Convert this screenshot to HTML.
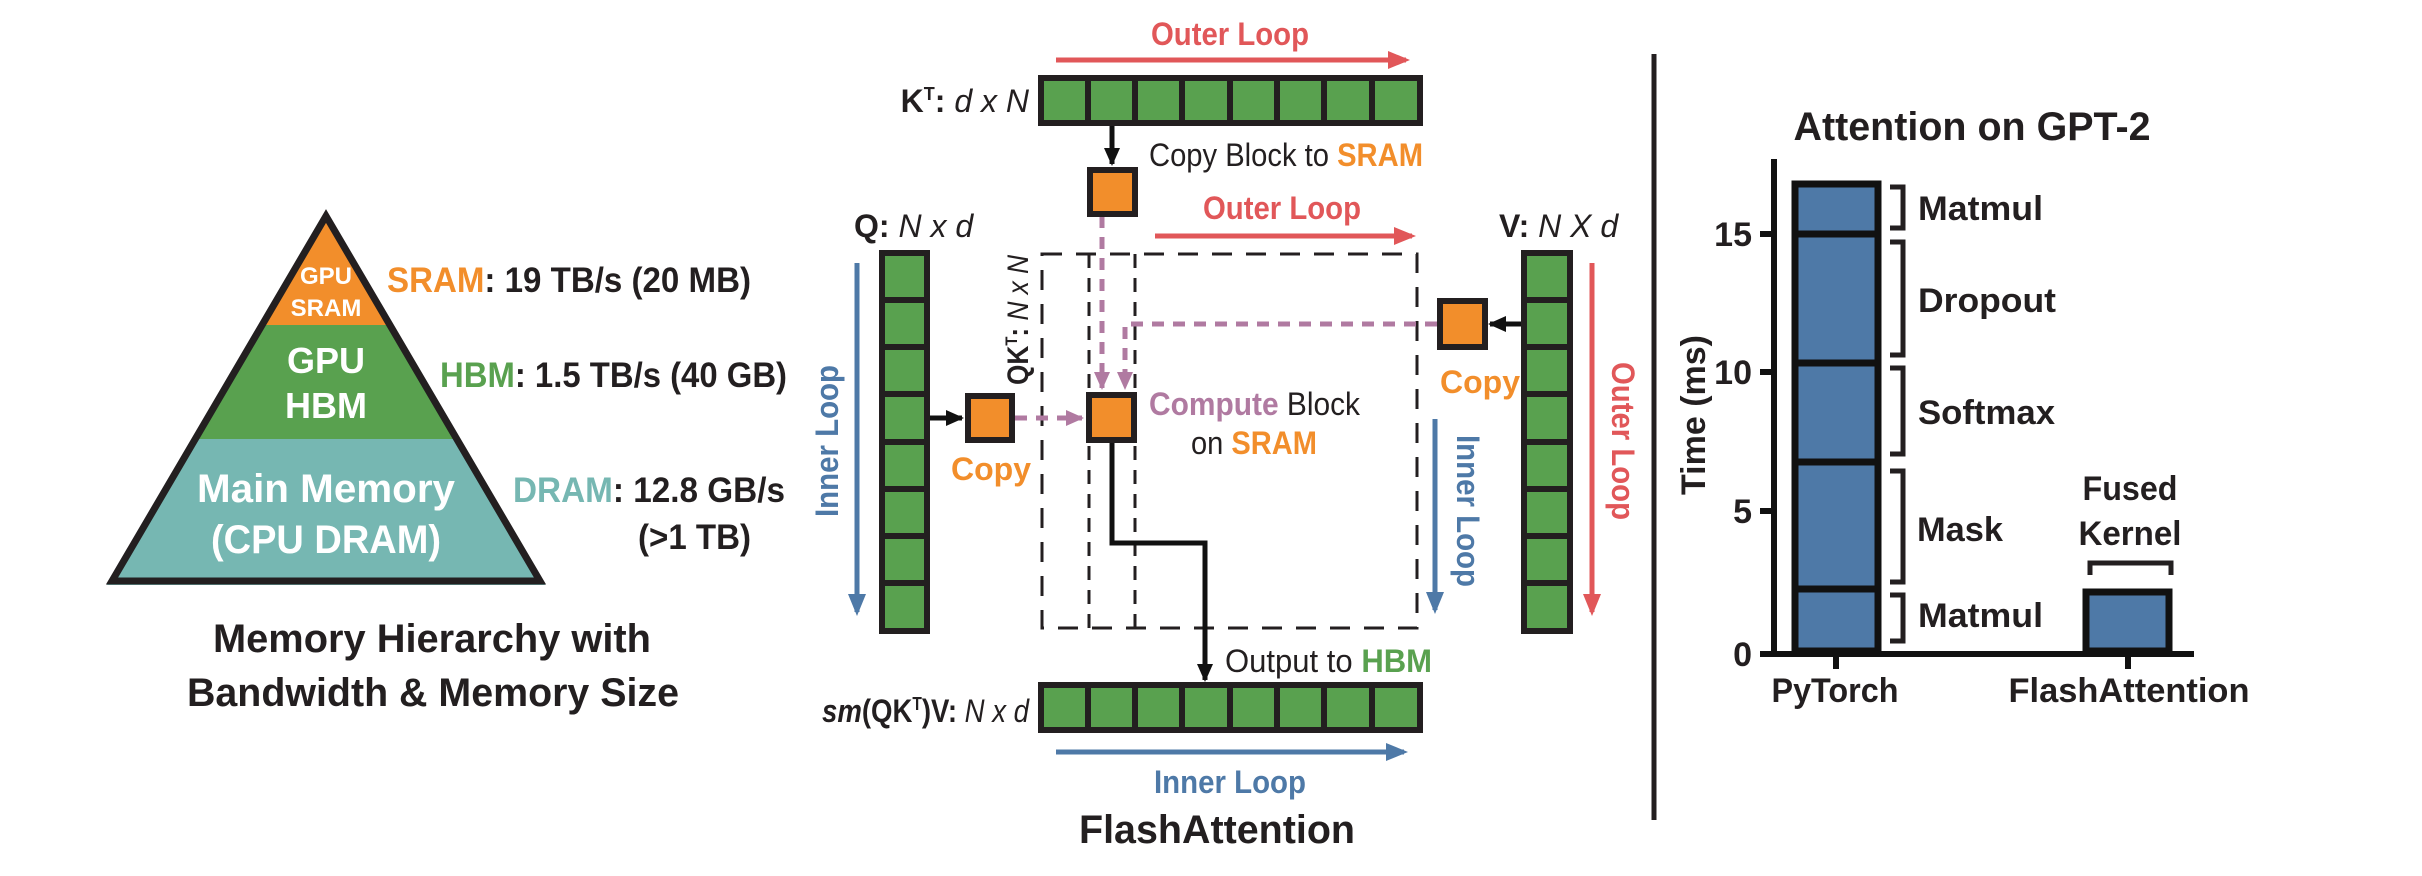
<!DOCTYPE html>
<html><head><meta charset="utf-8"><style>
html,body{margin:0;padding:0;background:#fff;}
svg{display:block;font-family:"Liberation Sans",sans-serif;}
</style></head><body>
<svg width="2422" height="876" viewBox="0 0 2422 876" xmlns="http://www.w3.org/2000/svg">
<defs>
<marker id="ab" markerWidth="20" markerHeight="18" refX="16" refY="9" orient="auto" markerUnits="userSpaceOnUse"><path d="M0,1 L18,9 L0,17 z" fill="#111"/></marker>
<marker id="ar" markerWidth="24" markerHeight="20" refX="18" refY="10" orient="auto" markerUnits="userSpaceOnUse"><path d="M0,1 L22,10 L0,19 z" fill="#e15759"/></marker>
<marker id="au" markerWidth="24" markerHeight="20" refX="18" refY="10" orient="auto" markerUnits="userSpaceOnUse"><path d="M0,1 L22,10 L0,19 z" fill="#4e79a7"/></marker>
<marker id="ap" markerWidth="20" markerHeight="18" refX="16" refY="9" orient="auto" markerUnits="userSpaceOnUse"><path d="M0,1 L18,9 L0,17 z" fill="#b07aa1"/></marker>
<clipPath id="tri"><polygon points="326,210 107,585 545,585"/></clipPath>
</defs>

<!-- Pyramid -->
<g clip-path="url(#tri)">
<rect x="100" y="200" width="460" height="125" fill="#f28e2b"/>
<rect x="100" y="325" width="460" height="114" fill="#59a14f"/>
<rect x="100" y="439" width="460" height="150" fill="#76b7b2"/>
</g>
<polygon points="326,216 112,581 540,581" fill="none" stroke="#231f20" stroke-width="7" stroke-linejoin="miter"/>
<g font-weight="bold" fill="#fff" text-anchor="middle">
<text x="326" y="284" font-size="24">GPU</text>
<text x="326" y="316" font-size="24">SRAM</text>
<text x="326" y="373" font-size="36">GPU</text>
<text x="326" y="418" font-size="36">HBM</text>
<text x="326" y="502" font-size="40" textLength="258" lengthAdjust="spacingAndGlyphs">Main Memory</text>
<text x="326" y="553" font-size="40" textLength="230" lengthAdjust="spacingAndGlyphs">(CPU DRAM)</text>
</g>
<g font-weight="bold" fill="#231f20" font-size="35">
<text x="387" y="292" textLength="364" lengthAdjust="spacingAndGlyphs"><tspan fill="#f28e2b">SRAM</tspan>: 19 TB/s (20 MB)</text>
<text x="440" y="387" textLength="347" lengthAdjust="spacingAndGlyphs"><tspan fill="#59a14f">HBM</tspan>: 1.5 TB/s (40 GB)</text>
<text x="513" y="502" textLength="272" lengthAdjust="spacingAndGlyphs"><tspan fill="#76b7b2">DRAM</tspan>: 12.8 GB/s</text>
<text x="638" y="549" textLength="113" lengthAdjust="spacingAndGlyphs">(&gt;1 TB)</text>
</g>
<g font-weight="bold" fill="#231f20" font-size="40" text-anchor="middle">
<text x="432" y="652" textLength="438" lengthAdjust="spacingAndGlyphs">Memory Hierarchy with</text>
<text x="433" y="706" textLength="492" lengthAdjust="spacingAndGlyphs">Bandwidth &amp; Memory Size</text>
</g>

<!-- FlashAttention -->
<g font-weight="bold" font-size="32" text-anchor="middle">
<text x="1230" y="45" fill="#e15759" textLength="158" lengthAdjust="spacingAndGlyphs">Outer Loop</text>
<text x="1282" y="219" fill="#e15759" textLength="158" lengthAdjust="spacingAndGlyphs">Outer Loop</text>
<text x="1230" y="793" fill="#4e79a7" textLength="152" lengthAdjust="spacingAndGlyphs">Inner Loop</text>
</g>
<line x1="1056" y1="60" x2="1406" y2="60" stroke="#e15759" stroke-width="5" marker-end="url(#ar)"/>
<line x1="1155" y1="236" x2="1412" y2="236" stroke="#e15759" stroke-width="5" marker-end="url(#ar)"/>
<line x1="1056" y1="752" x2="1404" y2="752" stroke="#4e79a7" stroke-width="5" marker-end="url(#au)"/>

<!-- bars -->
<g stroke="#231f20" stroke-width="6" fill="#59a14f">
<rect x="1041" y="78" width="379" height="45"/>
<path d="M1088,78v45M1135,78v45M1182,78v45M1230,78v45M1277,78v45M1324,78v45M1372,78v45" fill="none"/>
<rect x="1041" y="685" width="379" height="45"/>
<path d="M1088,685v45M1135,685v45M1182,685v45M1230,685v45M1277,685v45M1324,685v45M1372,685v45" fill="none"/>
<rect x="882" y="253" width="45" height="378"/>
<path d="M882,300h45M882,347h45M882,394h45M882,442h45M882,489h45M882,536h45M882,583h45" fill="none"/>
<rect x="1524" y="253" width="46" height="378"/>
<path d="M1524,300h46M1524,347h46M1524,394h46M1524,442h46M1524,489h46M1524,536h46M1524,583h46" fill="none"/>
</g>
<g font-size="32" fill="#231f20">
<text x="1029" y="112" text-anchor="end"><tspan font-weight="bold">K</tspan><tspan font-weight="bold" font-size="18" dy="-12">T</tspan><tspan font-weight="bold" dy="12">: </tspan><tspan font-style="italic">d x N</tspan></text>
<text x="854" y="237"><tspan font-weight="bold">Q: </tspan><tspan font-style="italic">N x d</tspan></text>
<text x="1499" y="237"><tspan font-weight="bold">V: </tspan><tspan font-style="italic">N X d</tspan></text>
<text x="1029" y="722" text-anchor="end" textLength="207" lengthAdjust="spacingAndGlyphs"><tspan font-weight="bold" font-style="italic">sm</tspan><tspan font-weight="bold">(QK</tspan><tspan font-weight="bold" font-size="18" dy="-12">T</tspan><tspan font-weight="bold" dy="12">)V: </tspan><tspan font-style="italic">N x d</tspan></text>
<text transform="translate(1028,320) rotate(-90)" text-anchor="middle" font-size="30" textLength="130" lengthAdjust="spacingAndGlyphs"><tspan font-weight="bold">QK</tspan><tspan font-weight="bold" font-size="17" dy="-11">T</tspan><tspan font-weight="bold" dy="11">: </tspan><tspan font-style="italic">N x N</tspan></text>
<text x="1149" y="166" textLength="274" lengthAdjust="spacingAndGlyphs">Copy Block to <tspan font-weight="bold" fill="#f28e2b">SRAM</tspan></text>
<text x="1149" y="415" textLength="211" lengthAdjust="spacingAndGlyphs"><tspan font-weight="bold" fill="#b07aa1">Compute</tspan> Block</text>
<text x="1191" y="454" textLength="126" lengthAdjust="spacingAndGlyphs">on <tspan font-weight="bold" fill="#f28e2b">SRAM</tspan></text>
<text x="1225" y="672" textLength="207" lengthAdjust="spacingAndGlyphs">Output to <tspan font-weight="bold" fill="#59a14f">HBM</tspan></text>
</g>
<g font-weight="bold" font-size="32" fill="#f28e2b" text-anchor="middle">
<text x="991" y="480">Copy</text>
<text x="1480" y="393">Copy</text>
</g>
<g font-weight="bold" font-size="32" text-anchor="middle">
<text transform="translate(838,441) rotate(-90)" fill="#4e79a7" textLength="152" lengthAdjust="spacingAndGlyphs">Inner Loop</text>
<text transform="translate(1457,511) rotate(90)" fill="#4e79a7" textLength="152" lengthAdjust="spacingAndGlyphs">Inner Loop</text>
<text transform="translate(1612,441) rotate(90)" fill="#e15759" textLength="158" lengthAdjust="spacingAndGlyphs">Outer Loop</text>
</g>
<line x1="857" y1="263" x2="857" y2="612" stroke="#4e79a7" stroke-width="5" marker-end="url(#au)"/>
<line x1="1435" y1="419" x2="1435" y2="610" stroke="#4e79a7" stroke-width="5" marker-end="url(#au)"/>
<line x1="1592" y1="263" x2="1592" y2="612" stroke="#e15759" stroke-width="5" marker-end="url(#ar)"/>

<!-- dashed rects -->
<rect x="1042" y="254" width="375" height="374" fill="none" stroke="#231f20" stroke-width="3" stroke-dasharray="20,14"/>
<path d="M1089,254V628M1135,254V628" fill="none" stroke="#231f20" stroke-width="3" stroke-dasharray="14,10"/>

<!-- purple dashed -->
<g stroke="#b07aa1" stroke-width="5" fill="none" stroke-dasharray="12,9">
<path d="M1102,216V388" marker-end="url(#ap)"/>
<path d="M1437,324H1125V388" marker-end="url(#ap)"/>
<path d="M1015,418H1082" marker-end="url(#ap)"/>
</g>

<!-- black arrows -->
<line x1="1112" y1="126" x2="1112" y2="164" stroke="#111" stroke-width="5" marker-end="url(#ab)"/>
<line x1="930" y1="418" x2="962" y2="418" stroke="#111" stroke-width="5" marker-end="url(#ab)"/>
<line x1="1521" y1="324" x2="1490" y2="324" stroke="#111" stroke-width="5" marker-end="url(#ab)"/>
<path d="M1112,443V543H1205V680" fill="none" stroke="#111" stroke-width="5" marker-end="url(#ab)"/>

<!-- orange blocks -->
<g fill="#f28e2b" stroke="#231f20" stroke-width="6">
<rect x="1090" y="170" width="45" height="44"/>
<rect x="968" y="396" width="44" height="44"/>
<rect x="1089" y="395" width="45" height="45"/>
<rect x="1440" y="301" width="45" height="46"/>
</g>
<text x="1217" y="843" text-anchor="middle" font-weight="bold" font-size="40" fill="#231f20" textLength="276" lengthAdjust="spacingAndGlyphs">FlashAttention</text>

<!-- divider -->
<line x1="1654" y1="54" x2="1654" y2="820" stroke="#231f20" stroke-width="5"/>

<!-- chart -->
<text x="1972" y="140" text-anchor="middle" font-weight="bold" font-size="40" fill="#231f20" textLength="357" lengthAdjust="spacingAndGlyphs">Attention on GPT-2</text>
<g fill="#4e79a7" stroke="#111" stroke-width="7">
<rect x="1795" y="184" width="83" height="467"/>
<rect x="2086" y="592" width="83" height="59"/>
</g>
<path d="M1795,234H1878M1795,363H1878M1795,462H1878M1795,589H1878" stroke="#111" stroke-width="7"/>
<path d="M1774,159V655M1760,654H2194M1760,234H1775M1760,372H1775M1760,511H1775M1836,654V669M2128,654V669" stroke="#111" stroke-width="6" fill="none"/>
<g font-weight="bold" font-size="34" fill="#231f20" text-anchor="end">
<text x="1752" y="246">15</text>
<text x="1752" y="384">10</text>
<text x="1752" y="523">5</text>
<text x="1752" y="666">0</text>
</g>
<text transform="translate(1705,415) rotate(-90)" text-anchor="middle" font-weight="bold" font-size="34" fill="#231f20" textLength="160" lengthAdjust="spacingAndGlyphs">Time (ms)</text>
<g fill="none" stroke="#231f20" stroke-width="5">
<path d="M1890,187H1903V228H1890"/>
<path d="M1890,242H1903V355H1890"/>
<path d="M1890,368H1903V454H1890"/>
<path d="M1890,471H1903V582H1890"/>
<path d="M1890,595H1903V641H1890"/>
<path d="M2090,575V563H2171V575"/>
</g>
<g font-weight="bold" font-size="34" fill="#231f20">
<text x="1918" y="220" textLength="125" lengthAdjust="spacingAndGlyphs">Matmul</text>
<text x="1918" y="312" textLength="138" lengthAdjust="spacingAndGlyphs">Dropout</text>
<text x="1918" y="424" textLength="137" lengthAdjust="spacingAndGlyphs">Softmax</text>
<text x="1917" y="541" textLength="86" lengthAdjust="spacingAndGlyphs">Mask</text>
<text x="1918" y="627" textLength="125" lengthAdjust="spacingAndGlyphs">Matmul</text>
<text x="2130" y="500" text-anchor="middle" textLength="95" lengthAdjust="spacingAndGlyphs">Fused</text>
<text x="2130" y="545" text-anchor="middle" textLength="103" lengthAdjust="spacingAndGlyphs">Kernel</text>
<text x="1835" y="702" text-anchor="middle" textLength="127" lengthAdjust="spacingAndGlyphs">PyTorch</text>
<text x="2129" y="702" text-anchor="middle" textLength="241" lengthAdjust="spacingAndGlyphs">FlashAttention</text>
</g>
</svg>
</body></html>
